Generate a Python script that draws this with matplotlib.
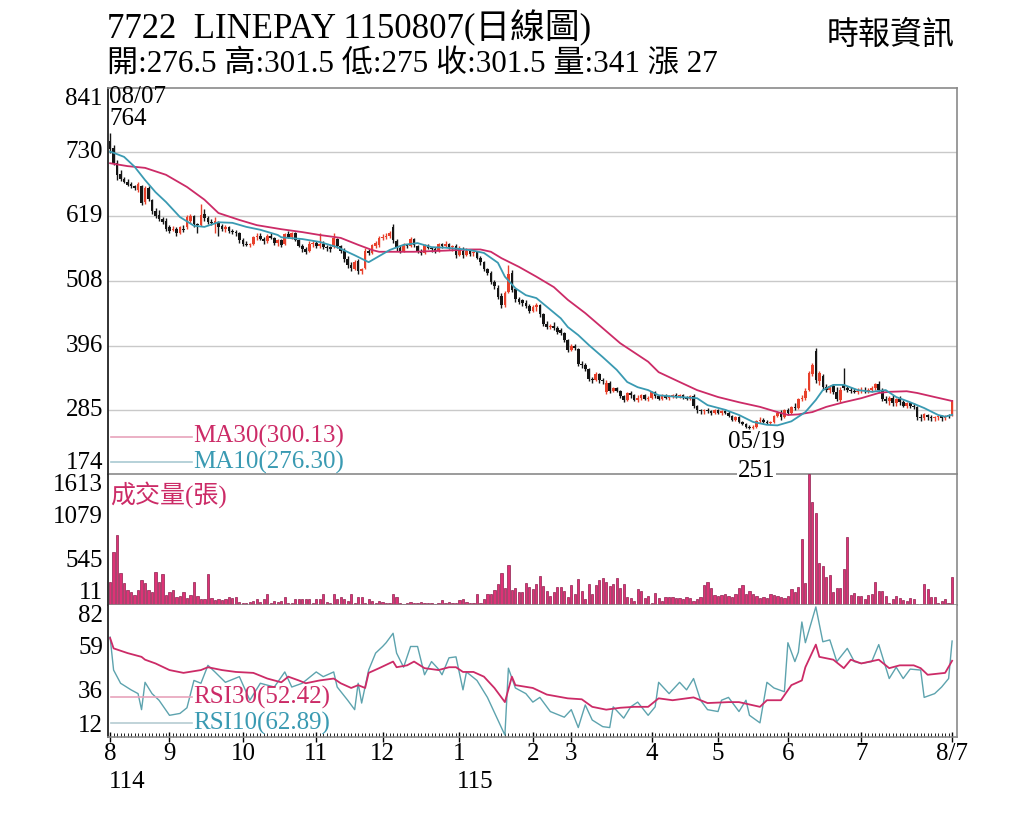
import matplotlib
matplotlib.use('Agg')
import matplotlib.pyplot as plt
import matplotlib.transforms as mtransforms
import numpy as np

plt.rcParams['font.family'] = ['Liberation Serif', 'Noto Sans CJK TC']

# ---- daily candles (one per trading day, 114/08/07 .. 115/08/07) ----
opens = [750, 738, 712, 692, 684, 679, 675, 671, 664, 672,
         644, 668, 648, 628, 622, 615, 612, 600, 596, 598,
         590, 598, 600, 612, 620, 606, 604, 624, 616, 610,
         608, 610, 602, 598, 600, 594, 592, 590, 578, 572,
         570, 572, 584, 586, 580, 576, 586, 582, 574, 578,
         572, 588, 584, 590, 578, 568, 562, 560, 572, 574,
         568, 572, 566, 566, 566, 580, 568, 560, 546, 536,
         528, 542, 524, 530, 560, 556, 568, 570, 582, 584,
         586, 600, 576, 564, 560, 570, 568, 580, 568, 560,
         556, 568, 564, 562, 560, 572, 568, 572, 566, 568,
         552, 560, 552, 560, 556, 558, 548, 540, 528, 522,
         506, 496, 482, 466, 488, 522, 494, 476, 474, 470,
         464, 456, 462, 466, 450, 434, 428, 430, 426, 422,
         418, 406, 388, 396, 390, 364, 362, 356, 338, 336,
         346, 336, 316, 332, 318, 322, 318, 308, 302, 314,
         310, 302, 306, 310, 304, 306, 316, 308, 304, 310,
         306, 308, 310, 308, 310, 306, 304, 308, 292, 284,
         282, 284, 282, 280, 284, 280, 282, 280, 274, 268,
         272, 264, 260, 256, 253, 256, 266, 268, 264, 262,
         264, 274, 280, 272, 284, 280, 290, 288, 304, 306,
         320, 346, 386, 334, 344, 324, 320, 326, 316, 302,
         328, 322, 320, 318, 316, 318, 320, 318, 320, 322,
         330, 320, 304, 300, 306, 296, 304, 298, 292, 296,
         292, 290, 272, 270, 276, 272, 270, 272, 274, 270,
         276, 276.5]
highs = [764, 742, 716, 700, 688, 683, 678, 674, 678, 674,
         672, 672, 650, 634, 630, 618, 616, 604, 602, 600,
         602, 604, 622, 624, 622, 608, 640, 632, 620, 614,
         618, 612, 606, 604, 602, 598, 596, 592, 582, 576,
         574, 586, 590, 590, 584, 588, 590, 584, 580, 580,
         590, 594, 592, 592, 580, 572, 566, 576, 578, 576,
         590, 576, 570, 568, 590, 582, 570, 564, 550, 540,
         544, 546, 530, 564, 562, 572, 576, 586, 588, 590,
         594, 606, 580, 570, 574, 572, 584, 582, 570, 562,
         572, 572, 566, 566, 574, 574, 576, 574, 570, 572,
         568, 566, 564, 562, 560, 560, 550, 542, 530, 524,
         510, 500, 486, 490, 536, 526, 496, 480, 476, 474,
         468, 466, 470, 468, 452, 438, 434, 436, 430, 426,
         420, 408, 398, 398, 392, 370, 366, 358, 342, 350,
         348, 340, 336, 334, 324, 324, 320, 310, 316, 318,
         312, 310, 312, 312, 308, 318, 318, 310, 312, 312,
         310, 312, 314, 312, 312, 308, 310, 312, 294, 286,
         286, 288, 284, 286, 286, 284, 286, 282, 276, 274,
         274, 266, 262, 258, 258, 268, 272, 270, 268, 266,
         276, 282, 284, 286, 288, 292, 296, 306, 310, 322,
         352, 366, 392, 352, 346, 330, 328, 330, 324, 324,
         358, 326, 324, 322, 322, 324, 324, 322, 326, 332,
         334, 322, 308, 308, 310, 306, 308, 302, 298, 298,
         296, 292, 278, 280, 278, 276, 274, 276, 276, 276,
         278, 301.5]
lows = [728, 708, 682, 680, 676, 671, 668, 664, 662, 638,
        640, 646, 624, 616, 612, 606, 594, 590, 594, 586,
        588, 592, 598, 608, 600, 590, 602, 612, 606, 604,
        590, 586, 594, 592, 590, 588, 586, 574, 568, 568,
        566, 570, 578, 578, 572, 574, 580, 570, 568, 566,
        570, 582, 580, 576, 566, 558, 554, 558, 566, 564,
        564, 562, 560, 558, 564, 564, 556, 540, 530, 524,
        526, 520, 520, 528, 552, 554, 564, 566, 578, 580,
        582, 574, 560, 556, 558, 564, 566, 566, 556, 552,
        554, 562, 558, 556, 558, 564, 566, 562, 560, 548,
        550, 548, 550, 550, 550, 546, 536, 524, 518, 502,
        494, 476, 460, 462, 486, 488, 472, 468, 464, 460,
        452, 454, 456, 446, 430, 424, 424, 422, 416, 414,
        402, 384, 386, 388, 360, 358, 352, 334, 332, 334,
        332, 330, 312, 314, 316, 316, 306, 298, 300, 306,
        300, 298, 302, 302, 300, 304, 306, 302, 302, 304,
        302, 306, 306, 306, 304, 302, 302, 288, 280, 278,
        278, 280, 276, 278, 278, 276, 278, 272, 266, 266,
        262, 258, 254, 252, 251, 254, 262, 262, 260, 258,
        262, 272, 268, 270, 276, 278, 284, 286, 300, 302,
        318, 344, 332, 328, 320, 316, 314, 312, 300, 298,
        320, 316, 314, 314, 312, 314, 314, 314, 316, 320,
        318, 300, 296, 294, 292, 292, 294, 290, 288, 288,
        286, 268, 266, 268, 268, 266, 266, 268, 266, 268,
        270, 275]
closes = [735, 712, 690, 684, 678, 674, 671, 668, 675, 642,
          668, 650, 628, 620, 615, 610, 598, 594, 598, 590,
          600, 596, 618, 620, 606, 604, 622, 616, 610, 608,
          612, 600, 598, 600, 594, 592, 590, 578, 572, 570,
          572, 584, 586, 580, 576, 586, 582, 574, 578, 570,
          588, 584, 590, 578, 568, 562, 558, 572, 574, 568,
          572, 566, 564, 562, 582, 568, 560, 546, 536, 530,
          540, 524, 528, 560, 556, 570, 574, 582, 584, 586,
          590, 578, 564, 560, 570, 568, 580, 570, 560, 556,
          570, 564, 562, 560, 572, 568, 572, 566, 568, 552,
          564, 552, 560, 554, 558, 548, 540, 528, 522, 506,
          498, 480, 466, 486, 520, 492, 476, 472, 470, 464,
          456, 462, 466, 450, 434, 428, 430, 426, 420, 418,
          406, 388, 396, 392, 364, 362, 356, 338, 336, 346,
          336, 334, 332, 318, 322, 318, 308, 302, 314, 310,
          302, 306, 310, 304, 306, 316, 308, 304, 310, 306,
          308, 310, 308, 310, 306, 304, 308, 292, 284, 282,
          284, 282, 280, 284, 280, 282, 280, 274, 268, 272,
          264, 260, 256, 254, 256, 266, 268, 264, 262, 264,
          274, 280, 272, 284, 280, 290, 288, 304, 306, 318,
          348, 362, 336, 348, 324, 320, 326, 316, 304, 320,
          322, 320, 318, 316, 318, 320, 318, 320, 322, 330,
          320, 304, 300, 306, 296, 304, 298, 292, 296, 292,
          290, 272, 270, 278, 272, 270, 272, 274, 270, 274,
          274.5, 301.5]
volumes = [287, 656, 862, 394, 271, 185, 160, 123, 185, 308,
           271, 185, 160, 410, 287, 381, 123, 160, 185, 98,
           110, 160, 86, 123, 287, 110, 70, 70, 381, 86,
           62, 70, 60, 80, 100, 90, 100, 40, 30, 30,
           40, 50, 70, 40, 80, 135, 30, 50, 40, 50,
           100, 30, 20, 70, 70, 70, 80, 80, 30, 70,
           80, 135, 40, 20, 135, 80, 100, 70, 50, 140,
           20, 100, 100, 30, 80, 50, 30, 50, 40, 30,
           30, 135, 100, 20, 15, 20, 40, 30, 30, 40,
           30, 20, 25, 15, 20, 60, 20, 40, 20, 20,
           60, 70, 40, 20, 30, 135, 20, 80, 130, 130,
           185, 260, 390, 205, 492, 185, 209, 160, 164, 275,
           220, 193, 255, 357, 234, 176, 111, 164, 217, 220,
           176, 103, 246, 135, 316, 176, 70, 258, 135, 246,
           308, 328, 287, 234, 258, 328, 205, 258, 103, 82,
           53, 193, 176, 82, 111, 20, 144, 82, 53, 103,
           103, 94, 82, 82, 70, 94, 82, 53, 70, 103,
           246, 287, 205, 123, 111, 123, 135, 111, 103, 135,
           205, 246, 135, 176, 135, 111, 82, 94, 82, 135,
           123, 111, 94, 82, 111, 193, 164, 217, 808, 275,
           1613, 1271, 1136, 521, 480, 340, 369, 164, 205, 205,
           439, 841, 123, 144, 111, 111, 70, 123, 135, 287,
           176, 176, 111, 20, 70, 111, 82, 62, 53, 82,
           70, 12, 12, 258, 193, 94, 94, 20, 53, 70,
           20, 341]

# ---- moving averages (day index, value) ----
ma30_idx = [0, 5, 10, 16, 22, 27, 31, 37, 42, 49, 55, 60, 66, 71, 75, 77, 87, 96,
            103, 106, 109, 112, 117, 122, 127, 131, 136, 141, 146, 151, 154, 157,
            163, 168, 174, 180, 186, 191, 194, 197, 201, 205, 210, 215, 220, 223,
            228, 231, 236, 241]
ma30_val = [711, 706, 703, 691, 670, 648, 625, 613, 604, 597, 592, 587, 582, 570,
            561, 558, 558, 560, 562, 562, 558, 547, 532, 515, 497, 475, 452, 426,
            400, 380, 368, 350, 333, 319, 307, 298, 290, 281, 276, 277, 281, 290,
            298, 305, 314, 316, 317, 314, 307, 300.13]
ma10_idx = [0, 1, 4, 7, 10, 13, 16, 20, 24, 27, 31, 35, 39, 43, 48, 49, 55, 60, 65,
            70, 74, 76, 80, 84, 88, 92, 96, 100, 103, 107, 111, 113, 116, 119, 122,
            125, 129, 131, 134, 137, 141, 145, 148, 151, 154, 157, 163, 168, 171,
            176, 180, 184, 188, 191, 195, 199, 202, 204, 207, 210, 214, 218, 222,
            225, 229, 233, 237, 239, 241]
ma10_val = [731, 729, 722, 705, 682, 661, 644, 618, 603, 601, 609, 608, 601, 596,
            587, 583, 580, 575, 566, 552, 540, 547, 561, 570, 573, 566, 565, 563,
            561, 556, 539, 515, 495, 483, 478, 463, 443, 428, 414, 397, 376, 354,
            333, 324, 319, 310, 307, 305, 293, 285, 276, 264, 259, 258, 265, 281,
            302, 319, 328, 328, 319, 316, 319, 307, 298, 288, 276, 273, 276.3]

# ---- RSI (day index, value) ----
rsi30_idx = [0, 1, 5, 9, 10, 13, 17, 21, 26, 28, 32, 36, 41, 45, 49, 51, 54, 56, 60,
             64, 66, 69, 71, 73, 74, 77, 81, 82, 85, 87, 90, 94, 97, 99, 101, 104,
             107, 110, 113, 115, 116, 121, 125, 131, 135, 138, 142, 146, 150, 154,
             157, 161, 167, 171, 177, 180, 186, 188, 192, 195, 198, 199, 202, 203,
             207, 210, 212, 215, 220, 223, 226, 230, 232, 234, 239, 241]
rsi30_val = [64.5, 59, 56.5, 54.5, 53, 51, 47.5, 46, 47.5, 49, 47.5, 46.5, 46, 43,
             41, 44, 42, 40.5, 42, 43, 40.5, 38, 39.5, 38, 46, 48.5, 52, 49, 50, 52,
             48.5, 47.5, 49, 49, 46.5, 46.5, 44, 38, 30.5, 44, 39.5, 38, 34.5, 32.5,
             32, 28, 26.5, 27.5, 28, 28, 32.5, 31.5, 33, 30, 30.5, 30.5, 28, 31.5,
             31.5, 39.5, 42, 49, 61, 54.5, 53, 48.5, 53, 51, 53, 48.5, 50, 50, 48.5,
             45, 46, 52.42]
rsi10_idx = [0, 1, 3, 6, 8, 9, 10, 12, 14, 17, 20, 22, 24, 26, 28, 30, 33, 37, 40,
             43, 47, 50, 52, 55, 59, 61, 64, 65, 68, 70, 71, 72, 74, 76, 78, 79, 81,
             82, 84, 86, 88, 90, 92, 94, 95, 97, 99, 101, 102, 105, 108, 111, 113,
             114, 116, 119, 121, 123, 126, 130, 132, 134, 136, 138, 141, 143, 144,
             147, 149, 151, 154, 156, 157, 160, 163, 165, 167, 169, 171, 174, 175,
             177, 180, 182, 183, 186, 188, 190, 193, 194, 196, 197, 198, 199, 202,
             204, 206, 208, 211, 213, 215, 218, 220, 223, 225, 227, 229, 232, 233,
             236, 238, 240, 241]
rsi10_val = [65, 47.5, 40.5, 37, 35, 26.5, 41, 35, 31.5, 23.5, 24.5, 27.5, 42, 40.5,
             50, 46.5, 41, 44, 31.5, 40.5, 38.5, 46.5, 38.5, 40.5, 46.5, 44, 46.5,
             38.5, 31.5, 26.5, 40.5, 30, 47.5, 56.5, 60, 62, 67, 56.5, 49, 60, 60,
             45, 52, 48, 45, 54, 54.5, 37, 46.5, 42, 33, 21, 13, 48.5, 38, 35, 30.5,
             33, 25.5, 22.5, 26.5, 17, 29, 21, 17.5, 17, 28, 22, 28, 30.5, 23.5, 28,
             41, 35, 41, 37, 43, 31.5, 26.5, 25.5, 31.5, 33, 25.5, 31.5, 23.5, 19.5,
             41, 38, 36, 62, 52, 57, 73, 62, 81, 62.5, 63.5, 52, 59, 52, 51, 52, 61,
             43, 49, 43, 48, 47.5, 33, 35, 38.5, 43, 62.89]

price_ticks = [841, 730, 619, 508, 396, 285, 174]
vol_ticks = [1613, 1079, 545, 11]
rsi_ticks = [82, 59, 36, 12]
month_pos = [0, 17, 38, 59, 78, 100, 121, 132, 155, 174, 194, 215, 241]
month_labels = ['8', '9', '10', '11', '12', '1', '2', '3', '4', '5', '6', '7', '8/7']

o = np.array(opens, float)
h = np.array(highs, float)
l = np.array(lows, float)
c = np.array(closes, float)
v = np.array(volumes, float)
x = np.arange(len(c))

RED = '#E8412C'
BLK = '#151515'
MAG = '#CC2B67'
TEAL = '#3A9AB2'
FS = 18

fig = plt.figure(figsize=(10.24, 8.19), dpi=100)
L, R = 108 / 1024, 957 / 1024
ax_p = fig.add_axes([L, 1 - 474 / 819, R - L, 386 / 819])
ax_v = fig.add_axes([L, 1 - 605 / 819, R - L, 131 / 819], sharex=ax_p)
ax_r = fig.add_axes([L, 1 - 737 / 819, R - L, 132 / 819], sharex=ax_p)

# price panel
up = c >= o
cols = np.where(up, RED, BLK)
ax_p.vlines(x, l, h, colors=cols, lw=1.0, zorder=3)
body = np.maximum(np.abs(c - o), 1.5)
ax_p.bar(x, body, bottom=np.minimum(o, c), width=0.76, color=cols, zorder=3)
ax_p.plot(ma30_idx, ma30_val, color=MAG, lw=1.3, zorder=4)
ax_p.plot(ma10_idx, ma10_val, color=TEAL, lw=1.3, zorder=4)
for t in price_ticks[1:-1]:
    ax_p.axhline(t, color='#C9C9C9', lw=1.0, zorder=0)
ax_p.set_ylim(174, 841)
ax_p.set_xlim(-0.6, 242.4)

# volume panel
ax_v.bar(x, v, width=0.64, color='#DE3276', edgecolor='#8E1F4E', lw=0.5)
ax_v.set_ylim(0, 1613)
ax_v.patch.set_alpha(0)

# rsi panel
ax_r.plot(rsi10_idx, rsi10_val, color='#5DA3AE', lw=1.0)
ax_r.plot(rsi30_idx, rsi30_val, color=MAG, lw=1.3)
ax_r.set_ylim(12, 82)

for ax in (ax_p, ax_v, ax_r):
    ax.set_yticks([])
    for s in ('top', 'bottom', 'right'):
        ax.spines[s].set_color('#8A8A8A')
        ax.spines[s].set_linewidth(1.2)
    ax.spines['left'].set_color('#222222')
    ax.spines['left'].set_linewidth(1.3)
ax_v.spines['top'].set_visible(False)
ax_r.spines['top'].set_visible(False)
ax_p.tick_params(axis='x', which='both', bottom=False, labelbottom=False)
ax_v.tick_params(axis='x', which='both', bottom=False, labelbottom=False)

ax_r.set_xticks(month_pos)
ax_r.set_xticklabels(month_labels, fontsize=FS)
ax_r.set_xticks(x, minor=True)
ax_r.tick_params(axis='x', which='major', direction='inout', length=7, width=1.0, pad=1)
ax_r.tick_params(axis='x', which='minor', direction='in', length=3, width=0.6)

# y labels, kept inside each panel like the original
def ylabels(ax, ticks):
    tr = mtransforms.blended_transform_factory(ax.transAxes, ax.transData)
    for i, t in enumerate(ticks):
        va = 'top' if i == 0 else ('bottom' if i == len(ticks) - 1 else 'center')
        ax.text(-0.006, t, str(t), transform=tr, ha='right', va=va, fontsize=FS)

ylabels(ax_p, price_ticks)
ylabels(ax_v, vol_ticks)
ylabels(ax_r, rsi_ticks)

# year labels under the month ticks
yr = mtransforms.blended_transform_factory(ax_r.transData, fig.transFigure)
ax_r.text(-0.4, 1 - 782 / 819, '114', transform=yr, ha='left', va='center', fontsize=FS)
ax_r.text(99.2, 1 - 782 / 819, '115', transform=yr, ha='left', va='center', fontsize=FS)

# legends
def legend_row(ax, yfrac, label, line_col, text_col):
    ax.plot([0.003, 0.099], [yfrac, yfrac], transform=ax.transAxes, color=line_col, lw=1.2)
    ax.text(0.100, yfrac, label, transform=ax.transAxes, ha='left', va='center',
            fontsize=FS, color=text_col)

legend_row(ax_p, 0.096, 'MA30(300.13)', '#E7A3BB', MAG)
legend_row(ax_p, 0.031, 'MA10(276.30)', '#A9C9D2', TEAL)
legend_row(ax_r, 0.303, 'RSI30(52.42)', '#E7A3BB', MAG)
legend_row(ax_r, 0.106, 'RSI10(62.89)', '#B5CCD2', TEAL)
ax_v.text(0.003, 0.95, '成交量(張)', transform=ax_v.transAxes, ha='left', va='top',
          fontsize=FS, color=MAG)

# high / low marks
hi = int(np.argmax(h))
lo = int(np.argmin(l))
t_hi = mtransforms.offset_copy(ax_p.transData, fig=fig, x=0, y=2, units='points')
fig.text(hi - 0.3, h[hi], '08/07\n764', transform=t_hi, ha='left', va='bottom',
         fontsize=FS, linespacing=1.0)
t_lo = mtransforms.offset_copy(ax_p.transData, fig=fig, x=0, y=-1, units='points')
fig.text(lo + 1, l[lo], '05/19', transform=t_lo, ha='center', va='top', fontsize=FS)
t_lo2 = mtransforms.offset_copy(ax_p.transData, fig=fig, x=0, y=-22, units='points')
fig.text(lo + 1, l[lo], '251', transform=t_lo2, ha='center', va='top', fontsize=FS,
         bbox=dict(facecolor='white', edgecolor='none', pad=0.3))

# header
fig.text(107 / 1024, 1 - 28 / 819, '7722  LINEPAY 1150807(日線圖)', ha='left',
         va='center', fontsize=25)
fig.text(955 / 1024, 1 - 36 / 819, '時報資訊', ha='right', va='center', fontsize=23)
fig.text(107 / 1024, 1 - 65 / 819, '開:276.5 高:301.5 低:275 收:301.5 量:341 漲 27',
         ha='left', va='center', fontsize=22.4)

fig.savefig('out.png', dpi=100)
